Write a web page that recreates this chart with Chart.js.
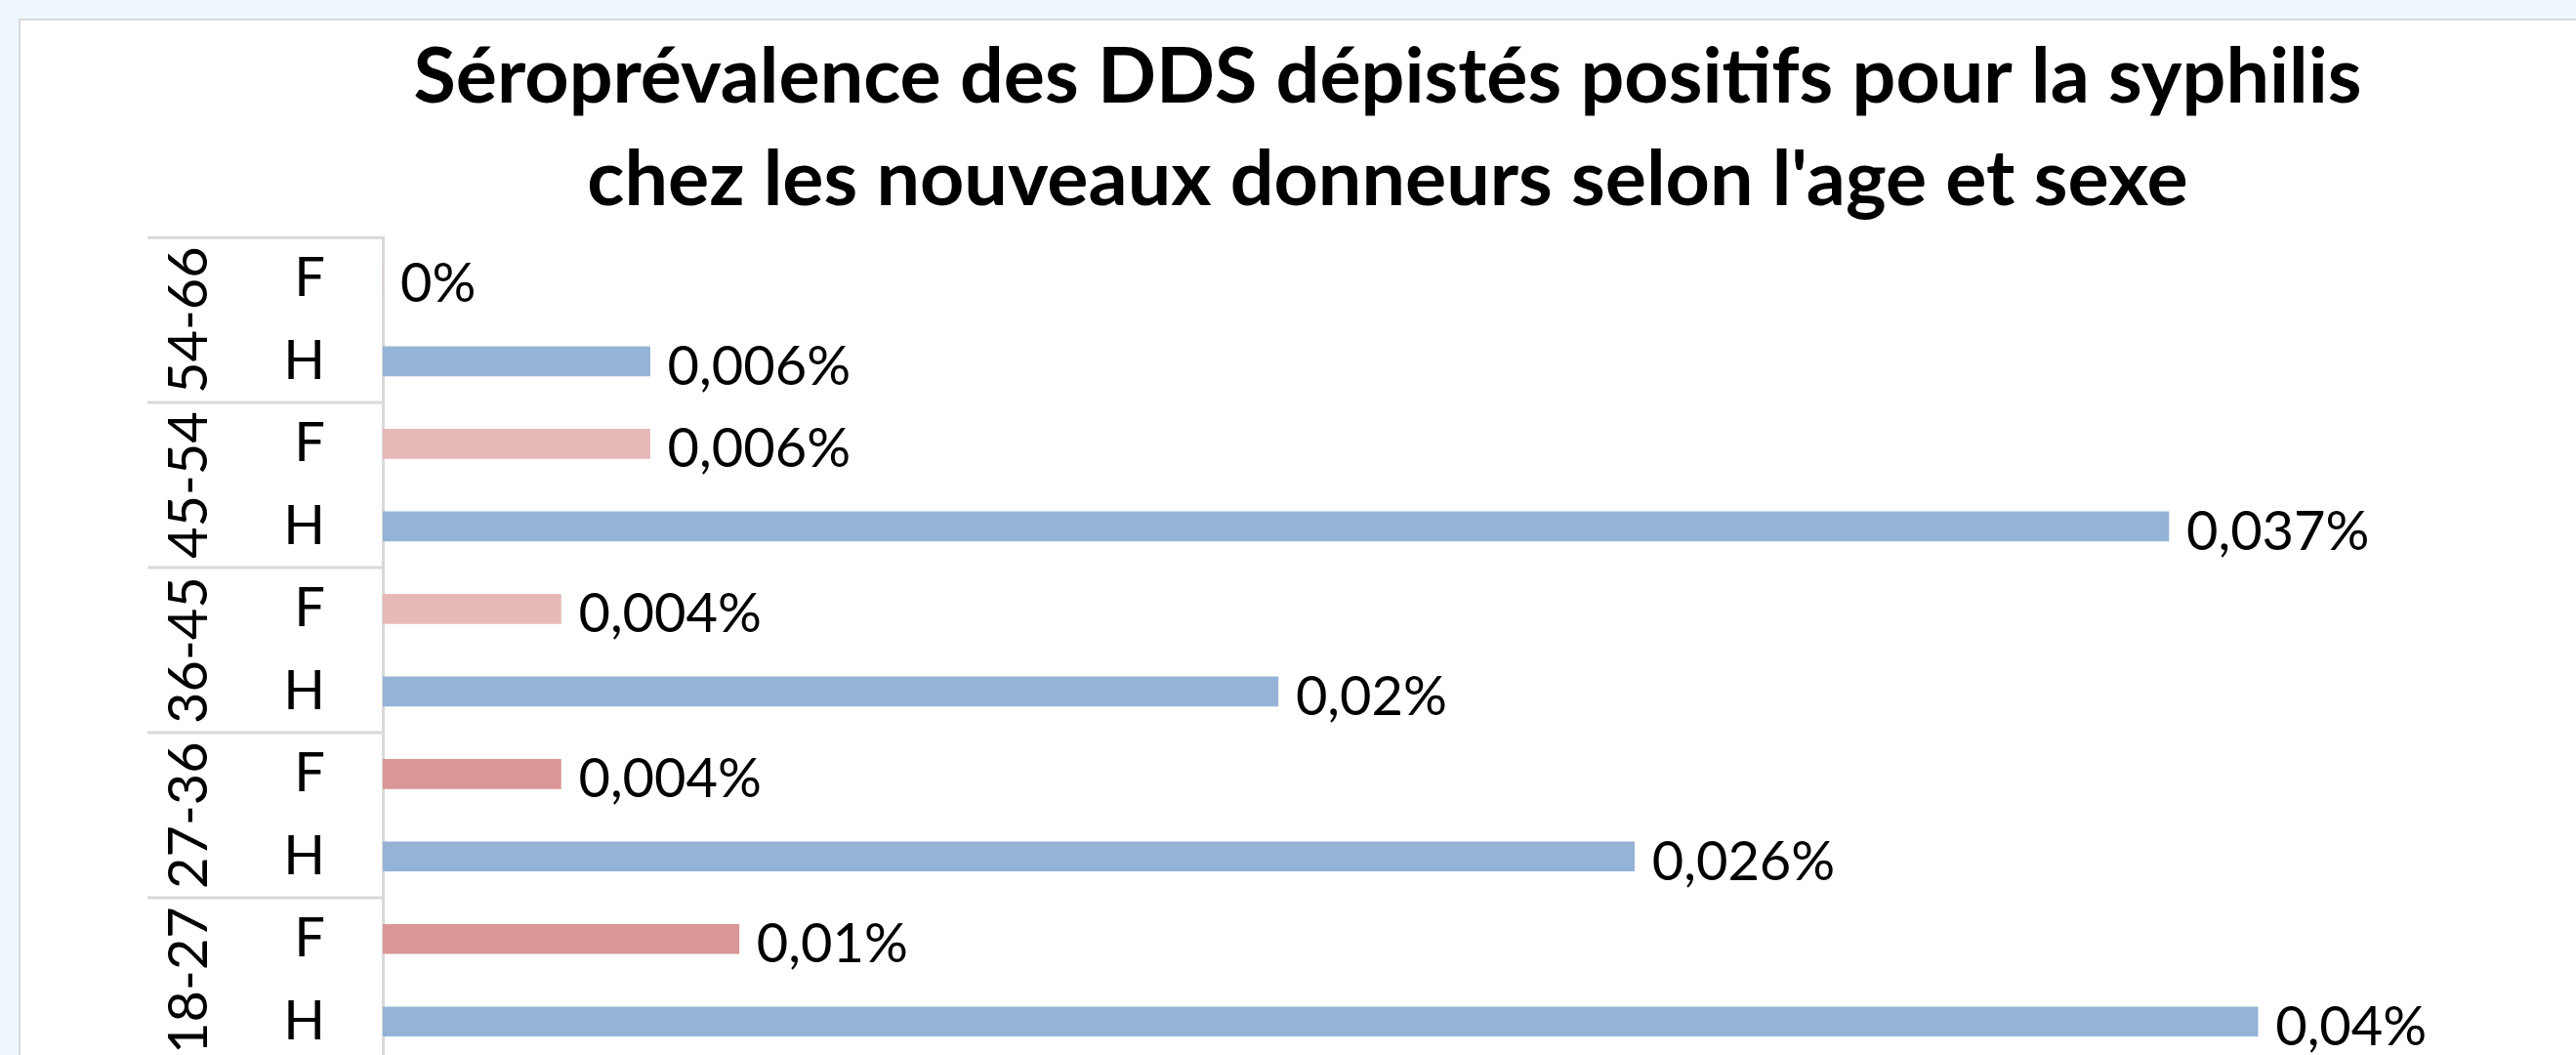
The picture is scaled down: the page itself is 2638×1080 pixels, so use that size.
<!DOCTYPE html>
<html>
<head>
<meta charset="utf-8">
<script src="https://cdn.jsdelivr.net/npm/chart.js@4.4.1/dist/chart.umd.min.js"></script>
<style>
    html, body { margin: 0; padding: 0; overflow: hidden; background: #EFF6FD; }
    #box {
        position: absolute; left: 19px; top: 19px;
        width: 2800px; height: 1100px;
        border: 2px solid #D9D9D9; background: #FFFFFF;
    }
    canvas { display: block; }
</style>
</head>
<body>
<div id="box"><canvas id="chart" width="2800" height="1100"></canvas></div>
<script>
// Data, top to bottom as in the picture
var TITLE = [
    "Séroprévalence des DDS dépistés positifs pour la syphilis",
    "chez les nouveaux donneurs selon l'age et sexe"
];
var AGE_GROUPS = ["54-66", "45-54", "36-45", "27-36", "18-27"];
var SEXES = ["F", "H"];
// bar lengths (%)
var VALUES = [0, 0.0057, 0.0057, 0.0381, 0.0038, 0.0191, 0.0038, 0.0267, 0.0076, 0.04];
// data labels as printed on the chart
var VALUE_LABELS = ["0%", "0,006%", "0,006%", "0,037%", "0,004%", "0,02%", "0,004%", "0,026%", "0,01%", "0,04%"];

// Colours
var BLUE = "#95B3D7";
var PINK_LIGHT = "#E6B9B8";
var PINK = "#D99694";
var GRID = "#D9D9D9";
var FONT = "Lato, 'Open Sans', sans-serif";

var labels = [];
var colors = [];
AGE_GROUPS.forEach(function (g, gi) {
    SEXES.forEach(function (s) {
        labels.push(s);
        if (s === "H") colors.push(BLUE);
        else colors.push(gi >= 3 ? PINK : PINK_LIGHT);
    });
});

// ── Value labels at the end of each bar ──
var barLabels = {
    id: "barLabels",
    afterDatasetsDraw: function (chart) {
        var ctx = chart.ctx;
        var meta = chart.getDatasetMeta(0);
        ctx.save();
        ctx.font = "56px " + FONT;
        ctx.fillStyle = "#000000";
        ctx.textAlign = "left";
        ctx.textBaseline = "alphabetic";
        meta.data.forEach(function (bar, i) {
            ctx.fillText(VALUE_LABELS[i], bar.x + 18, bar.y + 24);
        });
        ctx.restore();
    }
};

// ── Two-level category axis: F/H, then age groups + separators ──
var groupAxis = {
    id: "groupAxis",
    afterDraw: function (chart) {
        var ctx = chart.ctx;
        var y = chart.scales.y;
        var area = chart.chartArea;
        var half = (y.getPixelForValue(1) - y.getPixelForValue(0)) / 2;
        ctx.save();
        ctx.font = "56px " + FONT;
        ctx.fillStyle = "#000000";

        ctx.textAlign = "right";
        ctx.textBaseline = "middle";
        labels.forEach(function (s, i) {
            ctx.fillText(s, area.left - 59, y.getPixelForValue(i));
        });

        ctx.strokeStyle = GRID;
        ctx.lineWidth = 3;
        AGE_GROUPS.forEach(function (g, gi) {
            var top = y.getPixelForValue(gi * 2) - half;
            var bottom = y.getPixelForValue(gi * 2 + 1) + half;
            ctx.beginPath();
            ctx.moveTo(130, top);
            ctx.lineTo(area.left, top);
            ctx.stroke();

            ctx.save();
            ctx.translate(173, (top + bottom) / 2);
            ctx.rotate(-Math.PI / 2);
            ctx.textAlign = "center";
            ctx.textBaseline = "middle";
            ctx.fillText(g, 0, 0);
            ctx.restore();
        });
        ctx.restore();
    }
};

new Chart(document.getElementById("chart"), {
    type: "bar",
    data: {
        labels: labels,
        datasets: [{
            data: VALUES,
            backgroundColor: colors,
            borderWidth: 0,
            barThickness: 30
        }]
    },
    options: {
        indexAxis: "y",
        responsive: false,
        animation: false,
        devicePixelRatio: 1,
        layout: { padding: { top: 0, right: 0, bottom: 33, left: 0 } },
        plugins: {
            legend: { display: false },
            tooltip: { enabled: false },
            title: {
                display: true,
                text: TITLE,
                color: "#000000",
                font: { family: FONT, size: 79, weight: "bold", lineHeight: 1.33 },
                padding: { top: 6, bottom: 6 }
            }
        },
        scales: {
            x: { display: false, min: 0, max: 0.0506 },
            y: {
                grid: { display: false, drawTicks: false },
                border: { display: true, color: GRID, width: 3 },
                ticks: { display: false },
                afterFit: function (scale) { scale.width = 371; }
            }
        }
    },
    plugins: [barLabels, groupAxis]
});
</script>
</body>
</html>
